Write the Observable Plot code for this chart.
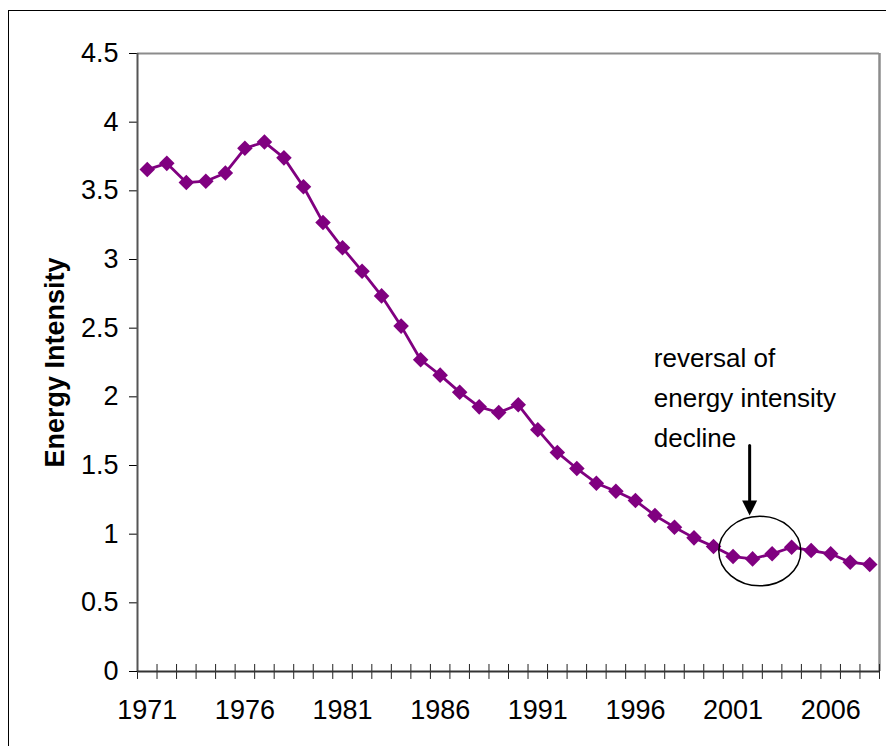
<!DOCTYPE html>
<html><head><meta charset="utf-8">
<script src="https://cdn.jsdelivr.net/npm/d3@7"></script>
<script src="https://cdn.jsdelivr.net/npm/@observablehq/plot@0.6"></script>
<style>
html,body{margin:0;padding:0;background:#fff;overflow:hidden;}
#wrap{position:relative;width:886px;height:746px;overflow:hidden;background:#fff;}
#chart{position:absolute;left:0;top:0;}
#border{position:absolute;left:8px;top:10px;width:1000px;height:1000px;border:1px solid #000;box-sizing:border-box;pointer-events:none;}
</style></head><body>
<div id="wrap"><div id="chart"></div><div id="border"></div></div>
<script>
const years = [1971,1972,1973,1974,1975,1976,1977,1978,1979,1980,1981,1982,1983,1984,1985,1986,1987,1988,1989,1990,1991,1992,1993,1994,1995,1996,1997,1998,1999,2000,2001,2002,2003,2004,2005,2006,2007,2008];
const intensity = [3.655,3.70,3.56,3.57,3.63,3.81,3.855,3.74,3.53,3.27,3.085,2.915,2.735,2.515,2.27,2.158,2.034,1.927,1.886,1.942,1.76,1.595,1.478,1.371,1.312,1.245,1.136,1.051,0.973,0.91,0.837,0.82,0.857,0.905,0.881,0.857,0.796,0.779];
const labelYears = [1971,1976,1981,1986,1991,1996,2001,2006];
const yTicks = [0,0.5,1,1.5,2,2.5,3,3.5,4,4.5];
const yLabel = "Energy Intensity";
const noteLines = ["reversal of","energy intensity","decline"];
const notePos = [1996.94, 1.633];
const arrowX = [2001.85];
const arrowY = [1.646, 1.19];
const circlePos = [2002.37, 0.877];

const data = years.map((year, i) => ({year, value: intensity[i]}));
const boundaries = d3.range(years.length + 1).map(i => years[0] - 0.5 + i);

const ellipse = {draw(ctx, size){
  const ry = Math.sqrt(size/Math.PI), rx = ry*1.178, k = 0.5523;
  ctx.moveTo(rx,0);
  ctx.bezierCurveTo(rx,k*ry,k*rx,ry,0,ry);
  ctx.bezierCurveTo(-k*rx,ry,-rx,k*ry,-rx,0);
  ctx.bezierCurveTo(-rx,-k*ry,-k*rx,-ry,0,-ry);
  ctx.bezierCurveTo(k*rx,-ry,rx,-k*ry,rx,0);
  ctx.closePath();
}};
const arrowHead = {draw(ctx, size){
  const r = Math.sqrt(size/Math.PI);
  ctx.moveTo(-r,-r); ctx.lineTo(r,-r); ctx.lineTo(0,r); ctx.closePath();
}};

const chart = Plot.plot({
  width: 886, height: 746,
  marginLeft: 137, marginRight: 7, marginTop: 53, marginBottom: 75,
  x: {type: "linear", domain: [years[0]-0.5, years[years.length-1]+0.5]},
  y: {domain: [0, 4.5]},
  style: {fontFamily: "'Liberation Sans', Arial, sans-serif", fontSize: "27px", color: "#000", background: "transparent"},
  marks: [
    Plot.ruleY([yTicks[yTicks.length-1]], {stroke: "#8c8c8c", strokeWidth: 2}),
    Plot.ruleX([boundaries[boundaries.length-1]], {stroke: "#8c8c8c", strokeWidth: 2.5}),
    Plot.axisY({ticks: yTicks, tickSize: 8, tickPadding: 11, tickFormat: d => String(d), label: null}),
    Plot.axisX({ticks: labelYears, tickSize: 0, tickPadding: 28, tickFormat: d => String(d), label: null}),
    Plot.ruleX(boundaries, {x: d => d, y1: -0.058, y2: 0.051, stroke: "#222", strokeWidth: 1}),
    Plot.ruleX([boundaries[0]], {stroke: "#555", strokeWidth: 2}),
    Plot.ruleY([0], {stroke: "#333", strokeWidth: 2}),
    Plot.line(data, {x: "year", y: "value", stroke: "#800080", strokeWidth: 2.8}),
    Plot.dot(data, {x: "year", y: "value", symbol: "square", rotate: 45, r: 6.2, fill: "#800080", stroke: "none"}),
    Plot.text([yLabel], {frameAnchor: "left", textAnchor: "middle", rotate: -90, dx: -74, lineAnchor: "bottom", fontWeight: "bold", fontSize: 27, text: d => d, fill: "#000"}),
    Plot.text([noteLines.join("\n")], {x: () => notePos[0], y: () => notePos[1], text: d => d, textAnchor: "start", lineAnchor: "bottom", lineHeight: 1.538, fontSize: 26, fill: "#000"}),
    Plot.line(arrowY.map(v => [arrowX[0], v]), {stroke: "#000", strokeWidth: 3}),
    Plot.dot([[arrowX[0], arrowY[1]]], {symbol: arrowHead, r: 7.5, fill: "#000", stroke: "none"}),
    Plot.dot([circlePos], {symbol: ellipse, r: 34.8, stroke: "#000", strokeWidth: 1.5, fill: "none"})
  ]
});
document.getElementById("chart").appendChild(chart);
</script>
</body></html>
